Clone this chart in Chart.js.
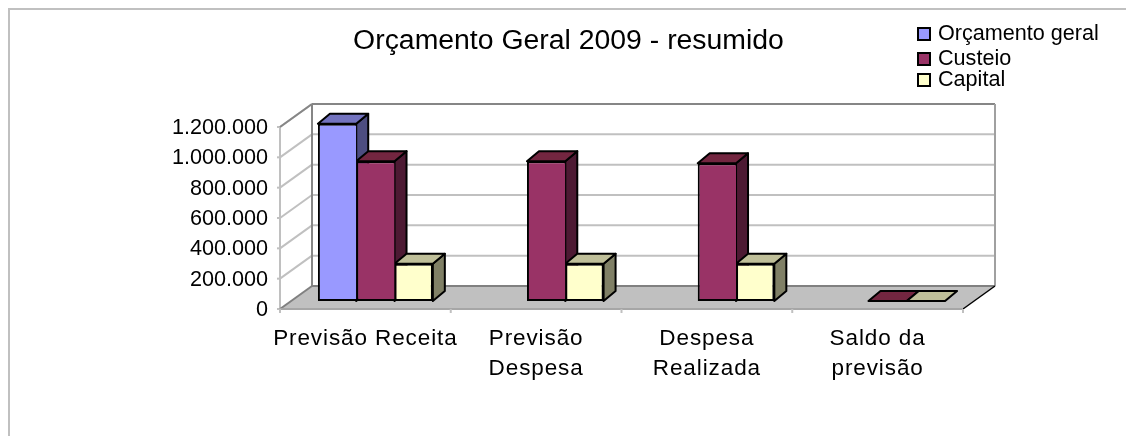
<!DOCTYPE html>
<html>
<head>
<meta charset="utf-8">
<style>
    html, body { margin: 0; padding: 0; background: #fff; overflow: hidden; }
    #wrap { position: relative; width: 1126px; height: 436px; }
    #frame { position: absolute; left: 8px; top: 8px; right: 0; bottom: 0; border-left: 2px solid #c0c0c0; border-top: 2px solid #c0c0c0; }
    canvas { position: absolute; left: 0; top: 0; }
</style>
</head>
<body>
<div id="wrap">
    <div id="frame"></div>
    <canvas id="chart" width="1126" height="436"></canvas>
</div>
<script src="https://cdn.jsdelivr.net/npm/chart.js@4/dist/chart.umd.min.js"></script>
<script>
const title = 'Orçamento Geral 2009 - resumido';
const categories = ['Previsão Receita', ['Previsão', 'Despesa'], ['Despesa', 'Realizada'], ['Saldo da', 'previsão']];
const seriesNames = ['Orçamento geral', 'Custeio', 'Capital'];
const orcamentoGeral = [1168000, null, null, null];
const custeio = [922000, 922000, 908000, 0];
const capital = [246000, 246000, 246000, 0];
const yTicks = [0, 200000, 400000, 600000, 800000, 1000000, 1200000];

const FONT = '"Liberation Sans", Arial, sans-serif';
const frontColors = ['#9999ff', '#993366', '#ffffcc'];
const topColors = ['#7373bf', '#732640', '#bfbf99'];
const sideColors = ['#4d4d80', '#4d1a33', '#808066'];

// bars stand on the plot area, the walls are shifted from it
const FRONT = { dx: -10, dy: 8 };
const BACK = { dx: 22, dy: -15 };
const BAR_DEPTH = { dx: 12, dy: -10 };

function formatTick(value) {
    return value.toString().replace(/\B(?=(\d{3})+$)/g, '.');
}

function line(ctx, x1, y1, x2, y2, color, width) {
    ctx.strokeStyle = color;
    ctx.lineWidth = width;
    ctx.beginPath();
    ctx.moveTo(x1, y1);
    ctx.lineTo(x2, y2);
    ctx.stroke();
}

function poly(ctx, points, fill) {
    ctx.beginPath();
    points.forEach((p, i) => (i ? ctx.lineTo(p[0], p[1]) : ctx.moveTo(p[0], p[1])));
    ctx.closePath();
    ctx.fillStyle = fill;
    ctx.fill();
    ctx.strokeStyle = '#000';
    ctx.lineWidth = 2;
    ctx.lineJoin = 'round';
    ctx.stroke();
}

const walls = {
    id: 'walls',
    beforeDatasetsDraw(chart) {
        const { ctx, scales } = chart;
        const left = scales.x.left, right = scales.x.right;
        const zero = scales.y.getPixelForValue(0);
        const fl = left + FRONT.dx, fr = right + FRONT.dx;
        const bl = left + BACK.dx, br = right + BACK.dx;
        const catWidth = (right - left) / categories.length;

        ctx.save();

        // floor
        ctx.fillStyle = '#c0c0c0';
        ctx.beginPath();
        ctx.moveTo(fl, zero + FRONT.dy);
        ctx.lineTo(bl, zero + BACK.dy);
        ctx.lineTo(br, zero + BACK.dy);
        ctx.lineTo(fr, zero + FRONT.dy);
        ctx.closePath();
        ctx.fill();

        // grid lines on the side wall and on the back wall
        scales.y.ticks.forEach((tick) => {
            const y = scales.y.getPixelForValue(tick.value);
            if (tick.value > 0) {
                line(ctx, fl, y + FRONT.dy, bl, y + BACK.dy, '#c0c0c0', 2);
                line(ctx, bl, y + BACK.dy, br, y + BACK.dy, '#c0c0c0', 2);
            }
            line(ctx, fl - 3, y + FRONT.dy, fl, y + FRONT.dy, '#c0c0c0', 2);
        });

        const top = scales.y.getPixelForValue(scales.y.max);
        line(ctx, fl, top + FRONT.dy, fl, zero + FRONT.dy, '#c0c0c0', 2);
        line(ctx, fl, top + FRONT.dy, bl, top + BACK.dy, '#868686', 2);
        line(ctx, bl, top + BACK.dy, br, top + BACK.dy, '#868686', 2);
        line(ctx, bl, top + BACK.dy, bl, zero + BACK.dy, '#868686', 2);
        line(ctx, br, top + BACK.dy, br, zero + BACK.dy, '#a0a0a0', 2);
        line(ctx, bl, zero + BACK.dy, br, zero + BACK.dy, '#808080', 2);
        line(ctx, fl, zero + FRONT.dy, bl, zero + BACK.dy, '#808080', 2);
        line(ctx, fr, zero + FRONT.dy, br, zero + BACK.dy, '#000', 1.5);
        line(ctx, fl, zero + FRONT.dy, fr, zero + FRONT.dy, '#a6a6a6', 2);

        for (let i = 0; i <= categories.length; i++) {
            const x = fl + catWidth * i;
            line(ctx, x, zero + FRONT.dy, x, zero + FRONT.dy + 4, '#c0c0c0', 2);
        }

        // tops and sides of the bars, left to right so they cover each other
        categories.forEach((cat, j) => {
            chart.data.datasets.forEach((ds, i) => {
                if (ds.data[j] === null) {
                    return;
                }
                const el = chart.getDatasetMeta(i).data[j];
                const x1 = el.x - el.width / 2;
                const x2 = el.x + el.width / 2;
                const dx = BAR_DEPTH.dx, dy = BAR_DEPTH.dy;
                if (el.base - el.y > 0) {
                    poly(ctx, [[x2, el.y], [x2 + dx, el.y + dy], [x2 + dx, el.base + dy], [x2, el.base]], sideColors[i]);
                }
                poly(ctx, [[x1, el.y], [x1 + dx, el.y + dy], [x2 + dx, el.y + dy], [x2, el.y]], topColors[i]);
            });
        });

        ctx.restore();
    }
};

const titleAndLegend = {
    id: 'titleAndLegend',
    afterDraw(chart) {
        const ctx = chart.ctx;
        const rows = [34, 59, 80];

        ctx.save();
        ctx.fillStyle = '#000';
        ctx.textBaseline = 'middle';
        ctx.textAlign = 'center';
        ctx.font = '28.4px ' + FONT;
        ctx.fillText(title, 568.5, 41);

        ctx.textAlign = 'left';
        ctx.font = '21.6px ' + FONT;
        seriesNames.forEach((name, i) => {
            ctx.fillStyle = frontColors[i];
            ctx.fillRect(918, rows[i] - 6, 12, 12);
            ctx.strokeStyle = '#000';
            ctx.lineWidth = 2;
            ctx.strokeRect(918, rows[i] - 6, 12, 12);
            ctx.fillStyle = '#000';
            ctx.fillText(name, 938, rows[i]);
        });
        ctx.restore();
    }
};

new Chart(document.getElementById('chart'), {
    type: 'bar',
    data: {
        labels: categories,
        datasets: [
            { label: seriesNames[0], data: orcamentoGeral, backgroundColor: frontColors[0], borderWidth: { left: 2, top: 2, bottom: 2, right: 0 } },
            { label: seriesNames[1], data: custeio, backgroundColor: frontColors[1], borderWidth: { left: 2, top: 2, bottom: 2, right: 0 } },
            { label: seriesNames[2], data: capital, backgroundColor: frontColors[2], borderWidth: 2 }
        ]
    },
    options: {
        responsive: false,
        animation: false,
        events: [],
        layout: { padding: { left: 0, top: 119, right: 153, bottom: 35 } },
        datasets: {
            bar: {
                categoryPercentage: 0.673,
                barPercentage: 1,
                borderColor: '#000',
                borderSkipped: false
            }
        },
        plugins: {
            legend: { display: false },
            title: { display: false },
            tooltip: { enabled: false }
        },
        scales: {
            x: {
                grid: { display: false, drawTicks: false },
                border: { display: false },
                afterFit(scale) {
                    scale.height = 100;
                    // the labels of the reference are spaced wider than the font
                    if (!scale.plainDrawLabels) {
                        scale.plainDrawLabels = scale.drawLabels;
                        scale.drawLabels = function (area) {
                            this.ctx.letterSpacing = '0.9px';
                            this.plainDrawLabels(area);
                            this.ctx.letterSpacing = '0px';
                        };
                    }
                },
                ticks: {
                    autoSkip: false,
                    maxRotation: 0,
                    minRotation: 0,
                    color: '#000',
                    padding: 22,
                    labelOffset: FRONT.dx,
                    font: { family: FONT, size: 22.5, lineHeight: 1.36 }
                }
            },
            y: {
                min: 0,
                max: 1200000,
                grid: { display: false, drawTicks: false },
                border: { display: false },
                afterFit(scale) { scale.width = 290; },
                afterBuildTicks(scale) { scale.ticks = yTicks.map((value) => ({ value })); },
                ticks: {
                    color: '#000',
                    padding: 22,
                    labelOffset: FRONT.dy + 1,
                    callback: formatTick,
                    font: { family: FONT, size: 21.6 }
                }
            }
        }
    },
    plugins: [walls, titleAndLegend]
});
</script>
</body>
</html>
